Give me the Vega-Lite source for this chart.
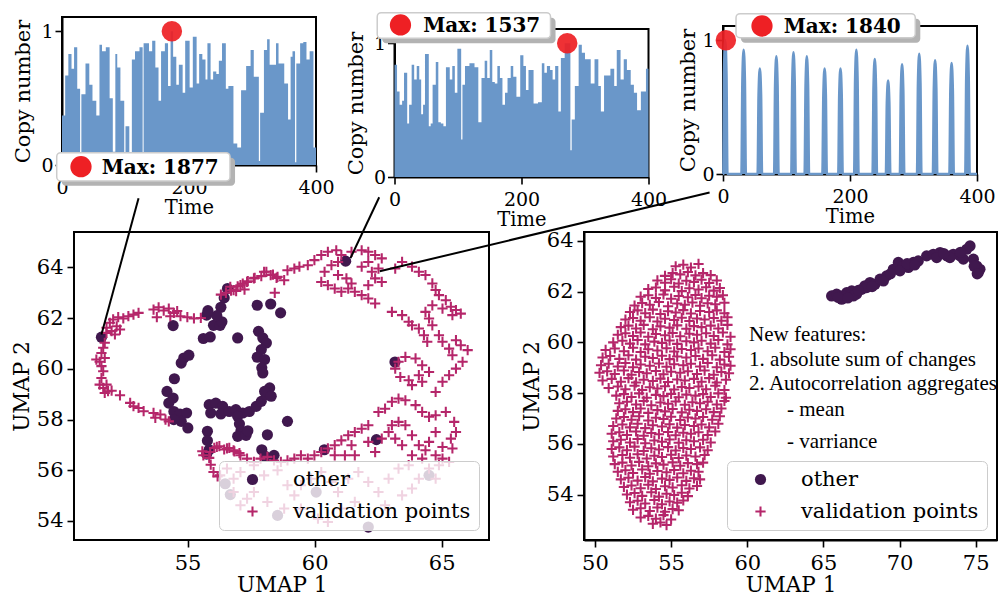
{
"$schema": "https://vega.github.io/schema/vega-lite/v6.json",
"background": "white",
"padding": {"left": 11, "top": 10, "right": 0, "bottom": 0},
"config": {
  "font": "DejaVu Serif",
  "view": {"stroke": "black", "strokeWidth": 2},
  "axis": {"domainColor": "black", "domainWidth": 2, "tickColor": "black", "tickWidth": 1.6, "labelColor": "black", "titleColor": "black", "titleFontWeight": "normal", "grid": false, "labelFont": "DejaVu Serif", "titleFont": "DejaVu Serif", "labelFlush": false, "labelOverlap": false},
  "legend": {"labelFont": "DejaVu Serif", "labelFontSize": 21, "labelColor": "black", "labelLimit": 400, "fillColor": "rgba(255,255,255,0.8)", "strokeColor": "#cccccc", "cornerRadius": 5, "padding": 8, "symbolOffset": 15, "labelOffset": 30, "rowPadding": 10, "symbolSize": 100, "zindex": 1}
},
"datasets": {
  "ts1": [{"t":0,"v":0.37},{"t":5,"v":0.67},{"t":10,"v":0.83},{"t":15,"v":0.72},{"t":19,"v":0.88},{"t":24,"v":0.57},{"t":28.5,"v":0.04},{"t":30.5,"v":0.53},{"t":37,"v":0.76},{"t":43,"v":0.6},{"t":48,"v":0.48},{"t":54,"v":0.37},{"t":59,"v":0.9},{"t":63,"v":0.85},{"t":69,"v":0.88},{"t":75,"v":0.5},{"t":80,"v":0.1},{"t":84,"v":0.83},{"t":87,"v":0.73},{"t":92,"v":0.48},{"t":98,"v":0.03},{"t":100,"v":0.29},{"t":106,"v":0.03},{"t":110,"v":0.79},{"t":115,"v":0.85},{"t":122,"v":0.88},{"t":127,"v":0.05},{"t":128.5,"v":0.91},{"t":137,"v":0.85},{"t":142,"v":0.93},{"t":147,"v":0.73},{"t":152,"v":0.48},{"t":156,"v":0.85},{"t":162,"v":0.91},{"t":167,"v":0.59},{"t":171,"v":1.0},{"t":175,"v":0.81},{"t":180,"v":0.6},{"t":184,"v":0.75},{"t":190,"v":0.54},{"t":194,"v":0.93},{"t":201,"v":0.58},{"t":206,"v":0.96},{"t":212,"v":0.61},{"t":216,"v":0.83},{"t":221,"v":0.79},{"t":226,"v":0.64},{"t":229,"v":0.91},{"t":234,"v":0.64},{"t":238,"v":0.7},{"t":243,"v":0.68},{"t":247,"v":0.78},{"t":252,"v":0.91},{"t":258,"v":0.57},{"t":262,"v":0.59},{"t":270,"v":0.16},{"t":276,"v":0.13},{"t":282,"v":0.56},{"t":290,"v":0.74},{"t":297,"v":0.86},{"t":302,"v":0.66},{"t":310,"v":0.03},{"t":312,"v":0.39},{"t":318,"v":0.86},{"t":323,"v":0.94},{"t":327,"v":0.75},{"t":333,"v":0.75},{"t":337,"v":0.91},{"t":341,"v":0.76},{"t":345,"v":0.76},{"t":350,"v":0.61},{"t":356,"v":0.34},{"t":360,"v":0.81},{"t":363,"v":0.85},{"t":367,"v":0.02},{"t":369,"v":0.76},{"t":375,"v":0.91},{"t":380,"v":0.92},{"t":385,"v":0.79},{"t":390,"v":0.85},{"t":396,"v":0.13},{"t":400,"v":0.13}],
  "ts2": [{"t":0,"v":0.84},{"t":4,"v":0.64},{"t":8,"v":0.54},{"t":12,"v":0.57},{"t":15,"v":0.78},{"t":20,"v":0.4},{"t":23,"v":0.54},{"t":27,"v":0.84},{"t":31,"v":0.73},{"t":35,"v":0.83},{"t":39,"v":0.73},{"t":42,"v":0.47},{"t":45,"v":0.54},{"t":48,"v":0.92},{"t":54,"v":0.38},{"t":57,"v":0.4},{"t":60,"v":0.69},{"t":65,"v":0.86},{"t":69,"v":0.41},{"t":73,"v":0.4},{"t":77,"v":0.38},{"t":81,"v":0.82},{"t":87,"v":0.73},{"t":91,"v":0.83},{"t":95,"v":0.63},{"t":99,"v":0.96},{"t":105,"v":0.28},{"t":107,"v":0.69},{"t":111,"v":0.83},{"t":118,"v":0.85},{"t":126,"v":0.82},{"t":132,"v":0.41},{"t":137,"v":0.74},{"t":142,"v":0.87},{"t":146,"v":0.74},{"t":150,"v":0.95},{"t":154,"v":0.71},{"t":158,"v":0.7},{"t":162,"v":0.83},{"t":166,"v":0.74},{"t":170,"v":0.54},{"t":174,"v":0.63},{"t":178,"v":0.74},{"t":183,"v":0.83},{"t":187,"v":0.75},{"t":192,"v":0.6},{"t":198,"v":0.91},{"t":203,"v":0.83},{"t":207,"v":0.65},{"t":211,"v":0.8},{"t":219,"v":0.55},{"t":226,"v":0.56},{"t":232,"v":0.85},{"t":236,"v":0.78},{"t":240,"v":0.83},{"t":245,"v":0.8},{"t":249,"v":0.73},{"t":253,"v":0.83},{"t":258,"v":0.49},{"t":262,"v":0.89},{"t":268,"v":1.0},{"t":277,"v":0.2},{"t":279,"v":0.43},{"t":284,"v":0.68},{"t":290,"v":0.99},{"t":295,"v":0.93},{"t":300,"v":0.88},{"t":309,"v":0.7},{"t":315,"v":0.88},{"t":321,"v":0.68},{"t":325,"v":0.49},{"t":330,"v":0.76},{"t":340,"v":0.81},{"t":346,"v":0.68},{"t":350,"v":0.95},{"t":356,"v":0.73},{"t":361,"v":0.88},{"t":366,"v":0.8},{"t":372,"v":0.69},{"t":377,"v":0.63},{"t":382,"v":0.5},{"t":388,"v":0.64},{"t":396,"v":0.81},{"t":400,"v":0.81}],
  "ts3": [{"t":0,"v":0},{"t":0.5,"v":0},{"t":1.5,"v":0.75},{"t":3.5,"v":1.0},{"t":5.5,"v":0.75},{"t":7,"v":0},{"t":29,"v":0},{"t":30.5,"v":0.7},{"t":32.5,"v":0.93},{"t":34.5,"v":0.7},{"t":36,"v":0},{"t":54.5,"v":0},{"t":56,"v":0.59},{"t":58,"v":0.79},{"t":60,"v":0.59},{"t":61.5,"v":0},{"t":80.5,"v":0},{"t":82,"v":0.66},{"t":84,"v":0.88},{"t":86,"v":0.66},{"t":87.5,"v":0},{"t":107.5,"v":0},{"t":109,"v":0.68},{"t":111,"v":0.91},{"t":113,"v":0.68},{"t":114.5,"v":0},{"t":128.5,"v":0},{"t":130,"v":0.66},{"t":132,"v":0.88},{"t":134,"v":0.66},{"t":135.5,"v":0},{"t":156.5,"v":0},{"t":158,"v":0.59},{"t":160,"v":0.79},{"t":162,"v":0.59},{"t":163.5,"v":0},{"t":181.5,"v":0},{"t":183,"v":0.59},{"t":185,"v":0.79},{"t":187,"v":0.59},{"t":188.5,"v":0},{"t":206.5,"v":0},{"t":208,"v":0.7},{"t":210,"v":0.93},{"t":212,"v":0.7},{"t":213.5,"v":0},{"t":235.5,"v":0},{"t":237,"v":0.65},{"t":239,"v":0.86},{"t":241,"v":0.65},{"t":242.5,"v":0},{"t":256.5,"v":0},{"t":258,"v":0.53},{"t":260,"v":0.7},{"t":262,"v":0.53},{"t":263.5,"v":0},{"t":278.5,"v":0},{"t":280,"v":0.62},{"t":282,"v":0.82},{"t":284,"v":0.62},{"t":285.5,"v":0},{"t":305.5,"v":0},{"t":307,"v":0.68},{"t":309,"v":0.9},{"t":311,"v":0.68},{"t":312.5,"v":0},{"t":330.5,"v":0},{"t":332,"v":0.64},{"t":334,"v":0.85},{"t":336,"v":0.64},{"t":337.5,"v":0},{"t":356.5,"v":0},{"t":358,"v":0.62},{"t":360,"v":0.83},{"t":362,"v":0.62},{"t":363.5,"v":0},{"t":381.5,"v":0},{"t":383,"v":0.72},{"t":385,"v":0.96},{"t":387,"v":0.72},{"t":388.5,"v":0},{"t":400,"v":0}],
  "bl": [
{"x":51.61,"y":61.25,"g":"o"},{"x":54.43,"y":61.71,"g":"o"},{"x":55.75,"y":62.12,"g":"o"},{"x":56.02,"y":61.72,"g":"o"},{"x":56.28,"y":61.72,"g":"o"},{"x":55.62,"y":61.2,"g":"o"},{"x":55.89,"y":61.26,"g":"o"},{"x":56.35,"y":61.86,"g":"o"},{"x":56.57,"y":63.17,"g":"o"},{"x":56.44,"y":62.8,"g":"o"},{"x":56.31,"y":62.43,"g":"o"},{"x":56.15,"y":62.1,"g":"o"},{"x":55.8,"y":62.3,"g":"o"},{"x":56.97,"y":61.22,"g":"o"},{"x":57.74,"y":62.51,"g":"o"},{"x":58.27,"y":62.56,"g":"o"},{"x":58.66,"y":62.21,"g":"o"},{"x":57.79,"y":61.48,"g":"o"},{"x":57.96,"y":61.22,"g":"o"},{"x":58.1,"y":61.02,"g":"o"},{"x":57.9,"y":60.76,"g":"o"},{"x":57.74,"y":60.46,"g":"o"},{"x":58.03,"y":60.37,"g":"o"},{"x":57.92,"y":60.04,"g":"o"},{"x":57.96,"y":59.84,"g":"o"},{"x":54.85,"y":60.43,"g":"o"},{"x":55.05,"y":60.54,"g":"o"},{"x":54.75,"y":60.23,"g":"o"},{"x":54.48,"y":59.61,"g":"o"},{"x":54.19,"y":59.11,"g":"o"},{"x":54.43,"y":58.85,"g":"o"},{"x":54.26,"y":58.65,"g":"o"},{"x":54.46,"y":58.32,"g":"o"},{"x":54.7,"y":58.22,"g":"o"},{"x":54.96,"y":58.26,"g":"o"},{"x":54.75,"y":57.93,"g":"o"},{"x":55.01,"y":57.67,"g":"o"},{"x":54.46,"y":58.0,"g":"o"},{"x":55.85,"y":58.59,"g":"o"},{"x":56.11,"y":58.65,"g":"o"},{"x":56.38,"y":58.52,"g":"o"},{"x":55.91,"y":58.26,"g":"o"},{"x":56.31,"y":58.22,"g":"o"},{"x":56.64,"y":58.32,"g":"o"},{"x":56.9,"y":58.39,"g":"o"},{"x":57.17,"y":58.26,"g":"o"},{"x":57.43,"y":58.32,"g":"o"},{"x":57.7,"y":58.52,"g":"o"},{"x":57.9,"y":58.72,"g":"o"},{"x":58.1,"y":58.98,"g":"o"},{"x":58.23,"y":59.25,"g":"o"},{"x":58.03,"y":59.11,"g":"o"},{"x":58.29,"y":58.92,"g":"o"},{"x":56.97,"y":58.13,"g":"o"},{"x":57.04,"y":57.83,"g":"o"},{"x":57.1,"y":57.56,"g":"o"},{"x":56.97,"y":57.34,"g":"o"},{"x":57.3,"y":57.38,"g":"o"},{"x":57.37,"y":57.56,"g":"o"},{"x":55.78,"y":57.54,"g":"o"},{"x":55.78,"y":57.17,"g":"o"},{"x":55.85,"y":56.81,"g":"o"},{"x":55.75,"y":56.64,"g":"o"},{"x":58.14,"y":57.4,"g":"o"},{"x":57.92,"y":56.81,"g":"o"},{"x":58.06,"y":56.55,"g":"o"},{"x":58.4,"y":56.59,"g":"o"},{"x":61.22,"y":64.25,"g":"o"},{"x":63.16,"y":60.27,"g":"o"},{"x":58.93,"y":57.93,"g":"o"},{"x":62.43,"y":57.21,"g":"o"},{"x":60.38,"y":56.81,"g":"o"},{"x":56.48,"y":55.47,"g":"o"},{"x":56.68,"y":55.04,"g":"o"},{"x":58.54,"y":54.22,"g":"o"},{"x":60.06,"y":55.14,"g":"o"},{"x":62.11,"y":53.76,"g":"o"},{"x":64.5,"y":55.8,"g":"o"},
{"x":51.81,"y":61.62,"g":"v"},{"x":51.94,"y":61.82,"g":"v"},{"x":52.07,"y":61.95,"g":"v"},{"x":52.27,"y":62.04,"g":"v"},{"x":52.47,"y":61.99,"g":"v"},{"x":52.21,"y":61.68,"g":"v"},{"x":52.01,"y":61.49,"g":"v"},{"x":52.34,"y":61.55,"g":"v"},{"x":51.81,"y":61.42,"g":"v"},{"x":52.14,"y":61.36,"g":"v"},{"x":52.67,"y":62.08,"g":"v"},{"x":52.87,"y":62.14,"g":"v"},{"x":53.07,"y":62.21,"g":"v"},{"x":53.66,"y":62.34,"g":"v"},{"x":53.86,"y":62.43,"g":"v"},{"x":54.06,"y":62.3,"g":"v"},{"x":54.26,"y":62.38,"g":"v"},{"x":54.46,"y":62.21,"g":"v"},{"x":54.59,"y":62.28,"g":"v"},{"x":54.72,"y":62.08,"g":"v"},{"x":54.99,"y":62.04,"g":"v"},{"x":55.25,"y":61.99,"g":"v"},{"x":55.52,"y":62.01,"g":"v"},{"x":54.32,"y":62.08,"g":"v"},{"x":53.79,"y":62.04,"g":"v"},
{"x":51.74,"y":61.03,"g":"v"},{"x":51.68,"y":60.83,"g":"v"},{"x":51.61,"y":60.63,"g":"v"},{"x":51.41,"y":60.37,"g":"v"},{"x":51.54,"y":60.28,"g":"v"},{"x":51.74,"y":60.43,"g":"v"},{"x":51.61,"y":60.11,"g":"v"},{"x":51.68,"y":59.91,"g":"v"},{"x":51.61,"y":59.64,"g":"v"},{"x":51.54,"y":59.38,"g":"v"},{"x":51.68,"y":59.25,"g":"v"},{"x":51.81,"y":59.38,"g":"v"},{"x":51.87,"y":59.12,"g":"v"},{"x":51.74,"y":59.05,"g":"v"},{"x":52.01,"y":59.14,"g":"v"},
{"x":52.34,"y":58.96,"g":"v"},{"x":52.74,"y":58.66,"g":"v"},{"x":52.87,"y":58.53,"g":"v"},{"x":53.07,"y":58.46,"g":"v"},{"x":53.27,"y":58.33,"g":"v"},{"x":53.66,"y":58.26,"g":"v"},{"x":53.93,"y":58.2,"g":"v"},{"x":53.73,"y":58.07,"g":"v"},{"x":54.13,"y":58.0,"g":"v"},{"x":54.26,"y":57.93,"g":"v"},
{"x":56.31,"y":62.93,"g":"v"},{"x":56.51,"y":63.0,"g":"v"},{"x":56.71,"y":63.09,"g":"v"},{"x":56.97,"y":63.26,"g":"v"},{"x":57.17,"y":63.36,"g":"v"},{"x":57.37,"y":63.46,"g":"v"},{"x":57.64,"y":63.59,"g":"v"},{"x":57.9,"y":63.66,"g":"v"},{"x":58.1,"y":63.83,"g":"v"},{"x":58.36,"y":63.72,"g":"v"},{"x":58.5,"y":63.59,"g":"v"},{"x":58.43,"y":63.0,"g":"v"},{"x":56.91,"y":63.07,"g":"v"},{"x":57.24,"y":63.13,"g":"v"},
{"x":55.58,"y":56.75,"g":"v"},{"x":55.85,"y":56.49,"g":"v"},{"x":56.05,"y":56.88,"g":"v"},{"x":56.25,"y":56.95,"g":"v"},{"x":56.44,"y":56.82,"g":"v"},{"x":56.64,"y":56.88,"g":"v"},{"x":56.84,"y":56.75,"g":"v"},{"x":57.04,"y":56.68,"g":"v"},{"x":55.91,"y":56.22,"g":"v"},{"x":56.18,"y":55.76,"g":"v"},
{"x":56.68,"y":63.24,"g":"v"},{"x":56.81,"y":63.11,"g":"v"},{"x":57.08,"y":63.3,"g":"v"},{"x":57.34,"y":63.43,"g":"v"},{"x":57.61,"y":63.57,"g":"v"},{"x":58.01,"y":63.83,"g":"v"},{"x":58.27,"y":63.7,"g":"v"},{"x":58.54,"y":63.63,"g":"v"},{"x":58.8,"y":63.5,"g":"v"},{"x":58.93,"y":63.89,"g":"v"},{"x":59.2,"y":63.96,"g":"v"},{"x":59.4,"y":64.03,"g":"v"},{"x":59.73,"y":64.09,"g":"v"},{"x":59.99,"y":64.29,"g":"v"},{"x":60.26,"y":64.49,"g":"v"},{"x":60.52,"y":64.62,"g":"v"},{"x":60.85,"y":64.68,"g":"v"},{"x":61.05,"y":64.49,"g":"v"},{"x":61.45,"y":64.62,"g":"v"},{"x":61.85,"y":64.68,"g":"v"},{"x":62.11,"y":64.62,"g":"v"},{"x":62.38,"y":64.49,"g":"v"},{"x":62.64,"y":64.36,"g":"v"},{"x":62.11,"y":64.22,"g":"v"},{"x":61.85,"y":64.03,"g":"v"},{"x":62.25,"y":63.83,"g":"v"},{"x":62.51,"y":63.96,"g":"v"},{"x":60.92,"y":64.22,"g":"v"},{"x":60.66,"y":64.09,"g":"v"},{"x":60.39,"y":63.83,"g":"v"},{"x":60.26,"y":63.43,"g":"v"},{"x":60.52,"y":63.3,"g":"v"},{"x":60.79,"y":63.17,"g":"v"},{"x":61.05,"y":63.04,"g":"v"},{"x":61.32,"y":63.17,"g":"v"},{"x":61.45,"y":63.37,"g":"v"},{"x":61.25,"y":63.57,"g":"v"},{"x":60.92,"y":63.7,"g":"v"},{"x":61.58,"y":63.04,"g":"v"},{"x":61.85,"y":62.91,"g":"v"},{"x":62.11,"y":62.78,"g":"v"},{"x":62.38,"y":62.58,"g":"v"},{"x":62.11,"y":63.3,"g":"v"},{"x":62.38,"y":63.57,"g":"v"},{"x":62.64,"y":63.43,"g":"v"},{"x":63.17,"y":63.96,"g":"v"},
{"x":63.44,"y":64.22,"g":"v"},{"x":63.83,"y":64.03,"g":"v"},{"x":64.1,"y":63.83,"g":"v"},{"x":64.36,"y":63.7,"g":"v"},{"x":64.63,"y":63.37,"g":"v"},{"x":64.76,"y":63.11,"g":"v"},{"x":64.89,"y":62.91,"g":"v"},{"x":65.16,"y":62.71,"g":"v"},{"x":65.36,"y":62.45,"g":"v"},{"x":65.56,"y":62.32,"g":"v"},{"x":65.75,"y":62.18,"g":"v"},{"x":65.42,"y":62.12,"g":"v"},{"x":65.03,"y":62.38,"g":"v"},{"x":64.63,"y":62.51,"g":"v"},{"x":64.36,"y":62.25,"g":"v"},{"x":64.5,"y":61.99,"g":"v"},{"x":64.63,"y":61.72,"g":"v"},{"x":64.89,"y":61.33,"g":"v"},{"x":65.03,"y":61.07,"g":"v"},{"x":65.29,"y":60.8,"g":"v"},{"x":65.42,"y":60.54,"g":"v"},{"x":65.56,"y":61.13,"g":"v"},{"x":65.75,"y":60.93,"g":"v"},{"x":66.02,"y":60.74,"g":"v"},{"x":65.82,"y":60.28,"g":"v"},{"x":65.56,"y":60.01,"g":"v"},{"x":65.29,"y":59.75,"g":"v"},{"x":65.03,"y":59.49,"g":"v"},{"x":64.76,"y":59.09,"g":"v"},
{"x":63.04,"y":62.25,"g":"v"},{"x":63.44,"y":62.12,"g":"v"},{"x":63.7,"y":61.86,"g":"v"},{"x":64.1,"y":61.59,"g":"v"},{"x":64.3,"y":61.33,"g":"v"},{"x":64.43,"y":61.07,"g":"v"},{"x":63.83,"y":61.72,"g":"v"},{"x":63.3,"y":60.28,"g":"v"},{"x":63.57,"y":60.47,"g":"v"},{"x":63.97,"y":60.41,"g":"v"},{"x":64.23,"y":60.14,"g":"v"},{"x":64.5,"y":59.88,"g":"v"},{"x":64.1,"y":59.75,"g":"v"},{"x":63.7,"y":59.55,"g":"v"},{"x":63.37,"y":59.68,"g":"v"},{"x":63.17,"y":60.01,"g":"v"},{"x":63.83,"y":59.36,"g":"v"},{"x":64.23,"y":59.49,"g":"v"},
{"x":62.51,"y":58.3,"g":"v"},{"x":62.77,"y":58.43,"g":"v"},{"x":63.04,"y":58.7,"g":"v"},{"x":63.3,"y":58.83,"g":"v"},{"x":63.57,"y":58.76,"g":"v"},{"x":63.97,"y":58.57,"g":"v"},{"x":64.23,"y":58.3,"g":"v"},{"x":64.5,"y":58.11,"g":"v"},{"x":64.76,"y":58.17,"g":"v"},{"x":65.16,"y":58.3,"g":"v"},{"x":65.49,"y":57.91,"g":"v"},{"x":65.36,"y":57.25,"g":"v"},{"x":65.56,"y":57.51,"g":"v"},{"x":64.76,"y":57.51,"g":"v"},{"x":64.5,"y":57.12,"g":"v"},{"x":64.36,"y":56.79,"g":"v"},{"x":64.1,"y":56.99,"g":"v"},{"x":63.83,"y":57.38,"g":"v"},{"x":63.57,"y":57.78,"g":"v"},{"x":63.3,"y":57.91,"g":"v"},{"x":63.04,"y":57.78,"g":"v"},{"x":62.91,"y":57.51,"g":"v"},{"x":63.17,"y":57.25,"g":"v"},{"x":63.44,"y":56.99,"g":"v"},{"x":63.83,"y":56.59,"g":"v"},{"x":64.23,"y":56.46,"g":"v"},{"x":64.76,"y":56.59,"g":"v"},{"x":65.03,"y":56.92,"g":"v"},{"x":65.42,"y":56.86,"g":"v"},{"x":65.03,"y":56.46,"g":"v"},
{"x":62.11,"y":57.78,"g":"v"},{"x":61.85,"y":57.64,"g":"v"},{"x":61.58,"y":57.51,"g":"v"},{"x":61.32,"y":57.38,"g":"v"},{"x":61.05,"y":57.18,"g":"v"},{"x":60.79,"y":56.99,"g":"v"},{"x":60.52,"y":56.86,"g":"v"},{"x":60.26,"y":56.72,"g":"v"},{"x":59.99,"y":56.59,"g":"v"},{"x":59.73,"y":56.46,"g":"v"},{"x":59.46,"y":56.59,"g":"v"},{"x":59.2,"y":56.46,"g":"v"},{"x":58.93,"y":56.39,"g":"v"},{"x":58.67,"y":56.33,"g":"v"},{"x":61.45,"y":56.99,"g":"v"},{"x":61.19,"y":56.59,"g":"v"},{"x":60.79,"y":56.59,"g":"v"},{"x":61.58,"y":56.59,"g":"v"},{"x":62.11,"y":57.12,"g":"v"},{"x":62.64,"y":57.25,"g":"v"},{"x":62.38,"y":56.72,"g":"v"},
{"x":55.62,"y":56.59,"g":"v"},{"x":55.89,"y":56.72,"g":"v"},{"x":56.15,"y":56.92,"g":"v"},{"x":56.55,"y":56.86,"g":"v"},{"x":56.81,"y":56.79,"g":"v"},{"x":57.08,"y":56.59,"g":"v"},{"x":57.34,"y":56.46,"g":"v"},{"x":57.61,"y":56.33,"g":"v"},{"x":57.87,"y":56.46,"g":"v"},{"x":58.14,"y":56.53,"g":"v"},{"x":58.4,"y":56.39,"g":"v"},{"x":56.02,"y":55.93,"g":"v"},{"x":56.28,"y":55.8,"g":"v"},
{"x":56.55,"y":56.07,"g":"v"},{"x":56.81,"y":55.67,"g":"v"},{"x":57.08,"y":55.93,"g":"v"},{"x":57.61,"y":56.2,"g":"v"},{"x":58.01,"y":55.8,"g":"v"},{"x":58.54,"y":56.0,"g":"v"},{"x":58.93,"y":55.41,"g":"v"},{"x":59.2,"y":55.01,"g":"v"},{"x":59.46,"y":55.41,"g":"v"},{"x":59.86,"y":55.67,"g":"v"},{"x":60.26,"y":55.93,"g":"v"},{"x":60.66,"y":55.54,"g":"v"},{"x":60.92,"y":55.14,"g":"v"},{"x":61.32,"y":55.67,"g":"v"},{"x":61.72,"y":55.93,"g":"v"},{"x":62.11,"y":55.54,"g":"v"},{"x":62.51,"y":55.14,"g":"v"},{"x":62.91,"y":55.67,"g":"v"},{"x":63.3,"y":56.07,"g":"v"},{"x":63.7,"y":56.2,"g":"v"},{"x":64.1,"y":55.67,"g":"v"},{"x":64.5,"y":56.07,"g":"v"},{"x":64.89,"y":56.2,"g":"v"},{"x":65.29,"y":56.33,"g":"v"},{"x":57.34,"y":54.88,"g":"v"},{"x":57.61,"y":55.14,"g":"v"},{"x":58.14,"y":54.75,"g":"v"},{"x":58.8,"y":54.49,"g":"v"},{"x":59.46,"y":54.49,"g":"v"},{"x":60.13,"y":54.09,"g":"v"},{"x":60.52,"y":53.96,"g":"v"},{"x":61.05,"y":54.49,"g":"v"},{"x":61.58,"y":54.75,"g":"v"},{"x":62.77,"y":54.62,"g":"v"},{"x":63.44,"y":55.01,"g":"v"},{"x":63.83,"y":55.28,"g":"v"},{"x":64.76,"y":55.67,"g":"v"},{"x":56.81,"y":55.14,"g":"v"},{"x":57.08,"y":54.62,"g":"v"}
  ],
  "br": [
{"x":65.54,"y":61.83,"g":"o"},{"x":65.87,"y":61.9,"g":"o"},{"x":66.2,"y":61.7,"g":"o"},{"x":66.53,"y":61.96,"g":"o"},{"x":66.86,"y":62.03,"g":"o"},{"x":67.18,"y":61.9,"g":"o"},{"x":67.51,"y":62.09,"g":"o"},{"x":67.73,"y":62.23,"g":"o"},{"x":68.06,"y":62.36,"g":"o"},{"x":68.39,"y":62.29,"g":"o"},{"x":68.72,"y":62.49,"g":"o"},{"x":69.15,"y":62.62,"g":"o"},{"x":69.59,"y":62.88,"g":"o"},{"x":69.92,"y":63.15,"g":"o"},{"x":70.25,"y":63.01,"g":"o"},{"x":70.58,"y":62.95,"g":"o"},{"x":70.91,"y":63.15,"g":"o"},{"x":71.23,"y":63.21,"g":"o"},{"x":71.78,"y":63.41,"g":"o"},{"x":72.22,"y":63.47,"g":"o"},{"x":72.66,"y":63.54,"g":"o"},{"x":73.1,"y":63.41,"g":"o"},{"x":73.53,"y":63.47,"g":"o"},{"x":73.97,"y":63.41,"g":"o"},{"x":74.41,"y":63.67,"g":"o"},{"x":74.63,"y":63.8,"g":"o"},{"x":74.85,"y":63.28,"g":"o"},{"x":75.07,"y":63.01,"g":"o"},{"x":75.28,"y":62.88,"g":"o"},{"x":75.17,"y":62.75,"g":"o"},{"x":74.19,"y":63.28,"g":"o"},{"x":73.31,"y":63.34,"g":"o"},{"x":72.44,"y":63.34,"g":"o"},{"x":70.03,"y":62.82,"g":"o"},{"x":68.94,"y":62.42,"g":"o"},{"x":67.84,"y":62.16,"g":"o"},{"x":66.97,"y":61.83,"g":"o"},{"x":66.31,"y":61.83,"g":"o"},{"x":65.98,"y":61.77,"g":"o"},{"x":66.6,"y":61.75,"g":"o"},{"x":67.3,"y":62.05,"g":"o"},{"x":68.2,"y":62.2,"g":"o"},{"x":69.4,"y":62.7,"g":"o"},{"x":70.5,"y":63.1,"g":"o"},{"x":71.0,"y":63.05,"g":"o"},{"x":72.9,"y":63.5,"g":"o"},{"x":74.0,"y":63.55,"g":"o"},{"x":74.9,"y":63.0,"g":"o"},{"x":75.1,"y":62.7,"g":"o"},
{"x":55.3,"y":63.0,"g":"v"},{"x":55.8,"y":63.06,"g":"v"},{"x":56.3,"y":62.95,"g":"v"},{"x":56.8,"y":63.09,"g":"v"},
{"x":54.6,"y":62.62,"g":"v"},{"x":55.1,"y":62.73,"g":"v"},{"x":55.6,"y":62.68,"g":"v"},{"x":56.1,"y":62.77,"g":"v"},{"x":56.6,"y":62.64,"g":"v"},{"x":57.1,"y":62.73,"g":"v"},{"x":57.6,"y":62.65,"g":"v"},
{"x":54.1,"y":62.44,"g":"v"},{"x":54.6,"y":62.35,"g":"v"},{"x":55.0,"y":62.49,"g":"v"},{"x":55.5,"y":62.32,"g":"v"},{"x":56.0,"y":62.43,"g":"v"},{"x":56.5,"y":62.38,"g":"v"},{"x":57.0,"y":62.47,"g":"v"},{"x":57.5,"y":62.34,"g":"v"},{"x":58.0,"y":62.44,"g":"v"},
{"x":53.5,"y":62.1,"g":"v"},{"x":54.0,"y":62.16,"g":"v"},{"x":54.6,"y":62.05,"g":"v"},{"x":55.2,"y":62.19,"g":"v"},{"x":55.7,"y":62.02,"g":"v"},{"x":56.2,"y":62.13,"g":"v"},{"x":56.8,"y":62.08,"g":"v"},{"x":57.3,"y":62.17,"g":"v"},{"x":57.8,"y":62.04,"g":"v"},{"x":58.2,"y":62.14,"g":"v"},
{"x":53.0,"y":61.8,"g":"v"},{"x":53.5,"y":61.86,"g":"v"},{"x":54.0,"y":61.75,"g":"v"},{"x":54.5,"y":61.89,"g":"v"},{"x":55.0,"y":61.72,"g":"v"},{"x":55.5,"y":61.83,"g":"v"},{"x":56.1,"y":61.78,"g":"v"},{"x":56.6,"y":61.87,"g":"v"},{"x":57.0,"y":61.74,"g":"v"},{"x":57.5,"y":61.84,"g":"v"},{"x":58.0,"y":61.8,"g":"v"},{"x":58.4,"y":61.86,"g":"v"},
{"x":52.6,"y":61.45,"g":"v"},{"x":53.1,"y":61.55,"g":"v"},{"x":53.6,"y":61.48,"g":"v"},{"x":54.2,"y":61.59,"g":"v"},{"x":54.8,"y":61.42,"g":"v"},{"x":55.4,"y":61.53,"g":"v"},{"x":55.9,"y":61.48,"g":"v"},{"x":56.4,"y":61.57,"g":"v"},{"x":56.9,"y":61.44,"g":"v"},{"x":57.4,"y":61.54,"g":"v"},{"x":57.9,"y":61.5,"g":"v"},{"x":58.5,"y":61.56,"g":"v"},
{"x":52.3,"y":61.2,"g":"v"},{"x":52.8,"y":61.26,"g":"v"},{"x":53.3,"y":61.15,"g":"v"},{"x":53.8,"y":61.29,"g":"v"},{"x":54.3,"y":61.12,"g":"v"},{"x":54.8,"y":61.23,"g":"v"},{"x":55.3,"y":61.18,"g":"v"},{"x":55.8,"y":61.27,"g":"v"},{"x":56.3,"y":61.14,"g":"v"},{"x":56.9,"y":61.24,"g":"v"},{"x":57.5,"y":61.2,"g":"v"},{"x":58.0,"y":61.26,"g":"v"},{"x":58.5,"y":61.15,"g":"v"},
{"x":52.0,"y":60.9,"g":"v"},{"x":52.5,"y":60.96,"g":"v"},{"x":53.0,"y":60.85,"g":"v"},{"x":53.6,"y":60.99,"g":"v"},{"x":54.1,"y":60.82,"g":"v"},{"x":54.6,"y":60.93,"g":"v"},{"x":55.2,"y":60.88,"g":"v"},{"x":55.7,"y":60.97,"g":"v"},{"x":56.2,"y":60.84,"g":"v"},{"x":56.7,"y":60.94,"g":"v"},{"x":57.2,"y":60.9,"g":"v"},{"x":57.8,"y":60.96,"g":"v"},{"x":58.3,"y":60.85,"g":"v"},{"x":58.7,"y":60.99,"g":"v"},
{"x":51.7,"y":60.6,"g":"v"},{"x":52.2,"y":60.66,"g":"v"},{"x":52.7,"y":60.55,"g":"v"},{"x":53.2,"y":60.69,"g":"v"},{"x":53.8,"y":60.52,"g":"v"},{"x":54.3,"y":60.63,"g":"v"},{"x":54.9,"y":60.58,"g":"v"},{"x":55.4,"y":60.67,"g":"v"},{"x":56.0,"y":60.54,"g":"v"},{"x":56.5,"y":60.64,"g":"v"},{"x":57.0,"y":60.6,"g":"v"},{"x":57.6,"y":60.66,"g":"v"},{"x":58.1,"y":60.55,"g":"v"},{"x":58.7,"y":60.69,"g":"v"},
{"x":51.5,"y":60.3,"g":"v"},{"x":52.0,"y":60.36,"g":"v"},{"x":52.5,"y":60.25,"g":"v"},{"x":53.0,"y":60.39,"g":"v"},{"x":53.5,"y":60.22,"g":"v"},{"x":54.0,"y":60.33,"g":"v"},{"x":54.6,"y":60.28,"g":"v"},{"x":55.1,"y":60.37,"g":"v"},{"x":55.6,"y":60.24,"g":"v"},{"x":56.2,"y":60.34,"g":"v"},{"x":56.7,"y":60.3,"g":"v"},{"x":57.3,"y":60.36,"g":"v"},{"x":57.8,"y":60.25,"g":"v"},{"x":58.4,"y":60.39,"g":"v"},{"x":58.9,"y":60.22,"g":"v"},
{"x":51.2,"y":60.0,"g":"v"},{"x":51.8,"y":60.06,"g":"v"},{"x":52.3,"y":59.95,"g":"v"},{"x":52.8,"y":60.09,"g":"v"},{"x":53.3,"y":59.92,"g":"v"},{"x":53.9,"y":60.03,"g":"v"},{"x":54.4,"y":59.98,"g":"v"},{"x":54.9,"y":60.07,"g":"v"},{"x":55.4,"y":59.94,"g":"v"},{"x":56.0,"y":60.04,"g":"v"},{"x":56.5,"y":60.0,"g":"v"},{"x":57.0,"y":60.06,"g":"v"},{"x":57.6,"y":59.95,"g":"v"},{"x":58.1,"y":60.09,"g":"v"},{"x":58.7,"y":59.92,"g":"v"},
{"x":50.7,"y":59.7,"g":"v"},{"x":51.3,"y":59.76,"g":"v"},{"x":51.9,"y":59.65,"g":"v"},{"x":52.5,"y":59.79,"g":"v"},{"x":53.0,"y":59.62,"g":"v"},{"x":53.5,"y":59.73,"g":"v"},{"x":54.1,"y":59.68,"g":"v"},{"x":54.7,"y":59.77,"g":"v"},{"x":55.2,"y":59.64,"g":"v"},{"x":55.7,"y":59.74,"g":"v"},{"x":56.3,"y":59.7,"g":"v"},{"x":56.8,"y":59.76,"g":"v"},{"x":57.4,"y":59.65,"g":"v"},{"x":57.9,"y":59.79,"g":"v"},{"x":58.5,"y":59.62,"g":"v"},{"x":58.9,"y":59.73,"g":"v"},
{"x":50.5,"y":59.4,"g":"v"},{"x":51.0,"y":59.46,"g":"v"},{"x":51.6,"y":59.35,"g":"v"},{"x":52.2,"y":59.49,"g":"v"},{"x":52.7,"y":59.32,"g":"v"},{"x":53.3,"y":59.43,"g":"v"},{"x":53.8,"y":59.38,"g":"v"},{"x":54.4,"y":59.47,"g":"v"},{"x":54.9,"y":59.34,"g":"v"},{"x":55.4,"y":59.44,"g":"v"},{"x":56.0,"y":59.4,"g":"v"},{"x":56.6,"y":59.46,"g":"v"},{"x":57.1,"y":59.35,"g":"v"},{"x":57.7,"y":59.49,"g":"v"},{"x":58.2,"y":59.32,"g":"v"},{"x":58.8,"y":59.43,"g":"v"},
{"x":50.4,"y":59.1,"g":"v"},{"x":50.9,"y":59.16,"g":"v"},{"x":51.5,"y":59.05,"g":"v"},{"x":52.0,"y":59.19,"g":"v"},{"x":52.5,"y":59.02,"g":"v"},{"x":53.0,"y":59.13,"g":"v"},{"x":53.6,"y":59.08,"g":"v"},{"x":54.2,"y":59.17,"g":"v"},{"x":54.7,"y":59.04,"g":"v"},{"x":55.2,"y":59.14,"g":"v"},{"x":55.8,"y":59.1,"g":"v"},{"x":56.3,"y":59.16,"g":"v"},{"x":56.9,"y":59.05,"g":"v"},{"x":57.4,"y":59.19,"g":"v"},{"x":58.0,"y":59.02,"g":"v"},{"x":58.5,"y":59.13,"g":"v"},{"x":58.9,"y":59.08,"g":"v"},
{"x":50.3,"y":58.8,"g":"v"},{"x":50.8,"y":58.86,"g":"v"},{"x":51.3,"y":58.75,"g":"v"},{"x":51.9,"y":58.89,"g":"v"},{"x":52.4,"y":58.72,"g":"v"},{"x":52.9,"y":58.83,"g":"v"},{"x":53.4,"y":58.78,"g":"v"},{"x":54.0,"y":58.87,"g":"v"},{"x":54.5,"y":58.74,"g":"v"},{"x":55.0,"y":58.84,"g":"v"},{"x":55.6,"y":58.8,"g":"v"},{"x":56.1,"y":58.86,"g":"v"},{"x":56.7,"y":58.75,"g":"v"},{"x":57.2,"y":58.89,"g":"v"},{"x":57.8,"y":58.72,"g":"v"},{"x":58.3,"y":58.83,"g":"v"},{"x":58.8,"y":58.78,"g":"v"},
{"x":50.5,"y":58.5,"g":"v"},{"x":51.1,"y":58.56,"g":"v"},{"x":51.7,"y":58.45,"g":"v"},{"x":52.2,"y":58.59,"g":"v"},{"x":52.7,"y":58.42,"g":"v"},{"x":53.2,"y":58.53,"g":"v"},{"x":53.8,"y":58.48,"g":"v"},{"x":54.3,"y":58.57,"g":"v"},{"x":54.8,"y":58.44,"g":"v"},{"x":55.4,"y":58.54,"g":"v"},{"x":55.9,"y":58.5,"g":"v"},{"x":56.5,"y":58.56,"g":"v"},{"x":57.0,"y":58.45,"g":"v"},{"x":57.5,"y":58.59,"g":"v"},{"x":58.0,"y":58.42,"g":"v"},{"x":58.6,"y":58.53,"g":"v"},
{"x":50.9,"y":58.2,"g":"v"},{"x":51.5,"y":58.26,"g":"v"},{"x":52.0,"y":58.15,"g":"v"},{"x":52.6,"y":58.29,"g":"v"},{"x":53.1,"y":58.12,"g":"v"},{"x":53.6,"y":58.23,"g":"v"},{"x":54.1,"y":58.18,"g":"v"},{"x":54.6,"y":58.27,"g":"v"},{"x":55.2,"y":58.14,"g":"v"},{"x":55.7,"y":58.24,"g":"v"},{"x":56.2,"y":58.2,"g":"v"},{"x":56.8,"y":58.26,"g":"v"},{"x":57.3,"y":58.15,"g":"v"},{"x":57.9,"y":58.29,"g":"v"},{"x":58.5,"y":58.12,"g":"v"},
{"x":51.4,"y":57.9,"g":"v"},{"x":51.9,"y":57.96,"g":"v"},{"x":52.4,"y":57.85,"g":"v"},{"x":52.9,"y":57.99,"g":"v"},{"x":53.4,"y":57.82,"g":"v"},{"x":54.0,"y":57.93,"g":"v"},{"x":54.5,"y":57.88,"g":"v"},{"x":55.0,"y":57.97,"g":"v"},{"x":55.5,"y":57.84,"g":"v"},{"x":56.0,"y":57.94,"g":"v"},{"x":56.6,"y":57.9,"g":"v"},{"x":57.1,"y":57.96,"g":"v"},{"x":57.6,"y":57.85,"g":"v"},{"x":58.1,"y":57.99,"g":"v"},{"x":58.6,"y":57.82,"g":"v"},
{"x":51.6,"y":57.6,"g":"v"},{"x":52.1,"y":57.66,"g":"v"},{"x":52.7,"y":57.55,"g":"v"},{"x":53.2,"y":57.69,"g":"v"},{"x":53.7,"y":57.52,"g":"v"},{"x":54.3,"y":57.63,"g":"v"},{"x":54.8,"y":57.58,"g":"v"},{"x":55.3,"y":57.67,"g":"v"},{"x":55.9,"y":57.54,"g":"v"},{"x":56.4,"y":57.64,"g":"v"},{"x":56.9,"y":57.6,"g":"v"},{"x":57.4,"y":57.66,"g":"v"},{"x":58.0,"y":57.55,"g":"v"},{"x":58.5,"y":57.69,"g":"v"},
{"x":51.5,"y":57.3,"g":"v"},{"x":52.0,"y":57.36,"g":"v"},{"x":52.5,"y":57.25,"g":"v"},{"x":53.0,"y":57.39,"g":"v"},{"x":53.5,"y":57.22,"g":"v"},{"x":54.1,"y":57.33,"g":"v"},{"x":54.6,"y":57.28,"g":"v"},{"x":55.1,"y":57.37,"g":"v"},{"x":55.7,"y":57.24,"g":"v"},{"x":56.2,"y":57.34,"g":"v"},{"x":56.7,"y":57.3,"g":"v"},{"x":57.3,"y":57.36,"g":"v"},{"x":57.8,"y":57.25,"g":"v"},{"x":58.3,"y":57.39,"g":"v"},
{"x":51.4,"y":57.0,"g":"v"},{"x":51.9,"y":57.06,"g":"v"},{"x":52.4,"y":56.95,"g":"v"},{"x":52.9,"y":57.09,"g":"v"},{"x":53.5,"y":56.92,"g":"v"},{"x":54.0,"y":57.03,"g":"v"},{"x":54.5,"y":56.98,"g":"v"},{"x":55.0,"y":57.07,"g":"v"},{"x":55.6,"y":56.94,"g":"v"},{"x":56.1,"y":57.04,"g":"v"},{"x":56.6,"y":57.0,"g":"v"},{"x":57.1,"y":57.06,"g":"v"},{"x":57.7,"y":56.95,"g":"v"},{"x":58.2,"y":57.09,"g":"v"},
{"x":51.2,"y":56.7,"g":"v"},{"x":51.8,"y":56.76,"g":"v"},{"x":52.3,"y":56.65,"g":"v"},{"x":52.8,"y":56.79,"g":"v"},{"x":53.3,"y":56.62,"g":"v"},{"x":53.8,"y":56.73,"g":"v"},{"x":54.4,"y":56.68,"g":"v"},{"x":54.9,"y":56.77,"g":"v"},{"x":55.4,"y":56.64,"g":"v"},{"x":55.9,"y":56.74,"g":"v"},{"x":56.5,"y":56.7,"g":"v"},{"x":57.0,"y":56.76,"g":"v"},{"x":57.5,"y":56.65,"g":"v"},{"x":58.1,"y":56.79,"g":"v"},
{"x":51.1,"y":56.4,"g":"v"},{"x":51.6,"y":56.46,"g":"v"},{"x":52.1,"y":56.35,"g":"v"},{"x":52.7,"y":56.49,"g":"v"},{"x":53.2,"y":56.32,"g":"v"},{"x":53.7,"y":56.43,"g":"v"},{"x":54.2,"y":56.38,"g":"v"},{"x":54.8,"y":56.47,"g":"v"},{"x":55.3,"y":56.34,"g":"v"},{"x":55.8,"y":56.44,"g":"v"},{"x":56.3,"y":56.4,"g":"v"},{"x":56.8,"y":56.46,"g":"v"},{"x":57.4,"y":56.35,"g":"v"},{"x":57.9,"y":56.49,"g":"v"},
{"x":51.2,"y":56.1,"g":"v"},{"x":51.7,"y":56.16,"g":"v"},{"x":52.3,"y":56.05,"g":"v"},{"x":52.8,"y":56.19,"g":"v"},{"x":53.3,"y":56.02,"g":"v"},{"x":53.9,"y":56.13,"g":"v"},{"x":54.4,"y":56.08,"g":"v"},{"x":54.9,"y":56.17,"g":"v"},{"x":55.5,"y":56.04,"g":"v"},{"x":56.0,"y":56.14,"g":"v"},{"x":56.5,"y":56.1,"g":"v"},{"x":57.1,"y":56.16,"g":"v"},{"x":57.6,"y":56.05,"g":"v"},
{"x":51.1,"y":55.8,"g":"v"},{"x":51.6,"y":55.86,"g":"v"},{"x":52.1,"y":55.75,"g":"v"},{"x":52.6,"y":55.89,"g":"v"},{"x":53.2,"y":55.72,"g":"v"},{"x":53.7,"y":55.83,"g":"v"},{"x":54.2,"y":55.78,"g":"v"},{"x":54.8,"y":55.87,"g":"v"},{"x":55.3,"y":55.74,"g":"v"},{"x":55.8,"y":55.84,"g":"v"},{"x":56.3,"y":55.8,"g":"v"},{"x":56.9,"y":55.86,"g":"v"},{"x":57.4,"y":55.75,"g":"v"},
{"x":51.2,"y":55.5,"g":"v"},{"x":51.8,"y":55.56,"g":"v"},{"x":52.3,"y":55.45,"g":"v"},{"x":52.8,"y":55.59,"g":"v"},{"x":53.4,"y":55.42,"g":"v"},{"x":53.9,"y":55.53,"g":"v"},{"x":54.4,"y":55.48,"g":"v"},{"x":55.0,"y":55.57,"g":"v"},{"x":55.5,"y":55.44,"g":"v"},{"x":56.0,"y":55.54,"g":"v"},{"x":56.6,"y":55.5,"g":"v"},{"x":57.2,"y":55.56,"g":"v"},
{"x":51.3,"y":55.2,"g":"v"},{"x":51.8,"y":55.26,"g":"v"},{"x":52.4,"y":55.15,"g":"v"},{"x":52.9,"y":55.29,"g":"v"},{"x":53.5,"y":55.12,"g":"v"},{"x":54.0,"y":55.23,"g":"v"},{"x":54.5,"y":55.18,"g":"v"},{"x":55.1,"y":55.27,"g":"v"},{"x":55.6,"y":55.14,"g":"v"},{"x":56.1,"y":55.24,"g":"v"},{"x":56.7,"y":55.2,"g":"v"},{"x":57.1,"y":55.26,"g":"v"},
{"x":51.5,"y":54.9,"g":"v"},{"x":52.0,"y":54.96,"g":"v"},{"x":52.5,"y":54.85,"g":"v"},{"x":53.1,"y":54.99,"g":"v"},{"x":53.6,"y":54.82,"g":"v"},{"x":54.1,"y":54.93,"g":"v"},{"x":54.7,"y":54.88,"g":"v"},{"x":55.2,"y":54.97,"g":"v"},{"x":55.8,"y":54.84,"g":"v"},{"x":56.3,"y":54.94,"g":"v"},{"x":56.8,"y":54.9,"g":"v"},
{"x":51.7,"y":54.6,"g":"v"},{"x":52.2,"y":54.66,"g":"v"},{"x":52.8,"y":54.55,"g":"v"},{"x":53.3,"y":54.69,"g":"v"},{"x":53.8,"y":54.52,"g":"v"},{"x":54.4,"y":54.63,"g":"v"},{"x":54.9,"y":54.58,"g":"v"},{"x":55.4,"y":54.67,"g":"v"},{"x":56.0,"y":54.54,"g":"v"},{"x":56.5,"y":54.64,"g":"v"},{"x":56.9,"y":54.6,"g":"v"},
{"x":51.9,"y":54.3,"g":"v"},{"x":52.4,"y":54.36,"g":"v"},{"x":53.0,"y":54.25,"g":"v"},{"x":53.5,"y":54.39,"g":"v"},{"x":54.0,"y":54.22,"g":"v"},{"x":54.6,"y":54.33,"g":"v"},{"x":55.1,"y":54.28,"g":"v"},{"x":55.7,"y":54.37,"g":"v"},{"x":56.2,"y":54.24,"g":"v"},{"x":56.7,"y":54.34,"g":"v"},
{"x":52.1,"y":54.0,"g":"v"},{"x":52.6,"y":54.06,"g":"v"},{"x":53.1,"y":53.95,"g":"v"},{"x":53.7,"y":54.09,"g":"v"},{"x":54.2,"y":53.92,"g":"v"},{"x":54.7,"y":54.03,"g":"v"},{"x":55.2,"y":53.98,"g":"v"},{"x":55.7,"y":54.07,"g":"v"},{"x":56.1,"y":53.94,"g":"v"},
{"x":52.3,"y":53.7,"g":"v"},{"x":52.8,"y":53.76,"g":"v"},{"x":53.3,"y":53.65,"g":"v"},{"x":53.9,"y":53.79,"g":"v"},{"x":54.4,"y":53.62,"g":"v"},{"x":54.9,"y":53.73,"g":"v"},{"x":55.4,"y":53.68,"g":"v"},{"x":55.8,"y":53.77,"g":"v"},
{"x":52.5,"y":53.4,"g":"v"},{"x":53.0,"y":53.46,"g":"v"},{"x":53.6,"y":53.35,"g":"v"},{"x":54.1,"y":53.49,"g":"v"},{"x":54.6,"y":53.32,"g":"v"},{"x":55.1,"y":53.43,"g":"v"},{"x":55.5,"y":53.38,"g":"v"},
{"x":53.0,"y":53.1,"g":"v"},{"x":53.5,"y":53.16,"g":"v"},{"x":54.0,"y":53.05,"g":"v"},{"x":54.5,"y":53.19,"g":"v"},{"x":55.0,"y":53.02,"g":"v"},
{"x":53.8,"y":52.85,"g":"v"},{"x":54.3,"y":52.9,"g":"v"},{"x":54.7,"y":52.8,"g":"v"}
  ]
},
"columns": 1,
"align": "none",
"bounds": "full",
"spacing": -39,
"resolve": {"scale": {"x": "independent", "y": "independent", "color": "independent", "shape": "independent", "size": "independent"}, "legend": {"color": "independent", "shape": "independent"}},
"concat": [
 {
  "columns": 3,
  "align": "none",
  "bounds": "full",
  "spacing": 7.5,
  "concat": [
   {
    "width": 254, "height": 148,
    "layer": [
     {"data": {"name": "ts1"}, "mark": {"type": "area", "interpolate": "step-after", "color": "#6a97c9"},
      "encoding": {
       "x": {"field": "t", "type": "quantitative", "scale": {"domain": [0, 400], "nice": false, "zero": false}, "axis": {"values": [0, 200, 400], "title": "Time", "labelFontSize": 19, "titleFontSize": 19.5, "tickSize": 7, "labelPadding": 6, "titlePadding": 1}},
       "y": {"field": "v", "type": "quantitative", "scale": {"domain": [0, 1.107], "nice": false}, "axis": {"values": [0, 1], "format": "d", "title": "Copy number", "labelFontSize": 19, "titleFontSize": 21, "tickSize": 7, "labelPadding": 2, "titlePadding": 7}}}},
     {"data": {"values": [{}]}, "mark": {"type": "point", "filled": true, "size": 420, "color": "#ee2024", "opacity": 0.92}, "encoding": {"x": {"datum": 173}, "y": {"datum": 1.0}}},
     {"data": {"values": [{}]}, "mark": {"type": "rect", "color": "#b3b3b3", "cornerRadius": 4}, "encoding": {"x": {"datum": -0.4}, "x2": {"datum": 272.5}, "y": {"datum": 0.055}, "y2": {"datum": -0.156}}},
     {"data": {"values": [{}]}, "mark": {"type": "rect", "fill": "white", "stroke": "#cccccc", "strokeWidth": 1.5, "cornerRadius": 4}, "encoding": {"x": {"datum": -8.3}, "x2": {"datum": 264.6}, "y": {"datum": 0.092}, "y2": {"datum": -0.119}}},
     {"data": {"values": [{}]}, "mark": {"type": "point", "filled": true, "size": 452, "color": "#ee2024", "opacity": 1}, "encoding": {"x": {"datum": 29.9}, "y": {"datum": -0.013}}},
     {"data": {"values": [{}]}, "mark": {"type": "text", "text": "Max: 1877", "align": "left", "baseline": "alphabetic", "font": "DejaVu Serif", "fontWeight": "bold", "fontSize": 20, "color": "black"}, "encoding": {"x": {"datum": 62.5}, "y": {"datum": -0.065}}}
    ]
   },
   {
    "spacing": 0,
    "bounds": "flush",
    "vconcat": [
     {"width": 254, "height": 11.6, "data": {"values": [{}]}, "mark": {"type": "text", "text": ""}, "view": {"stroke": null}},
     {
      "width": 254, "height": 148,
      "layer": [
       {"data": {"name": "ts2"}, "mark": {"type": "area", "interpolate": "step-after", "color": "#6a97c9"},
        "encoding": {
         "x": {"field": "t", "type": "quantitative", "scale": {"domain": [0, 400], "nice": false, "zero": false}, "axis": {"values": [0, 200, 400], "title": "Time", "labelFontSize": 19, "titleFontSize": 19.5, "tickSize": 7, "labelPadding": 6, "titlePadding": 1}},
         "y": {"field": "v", "type": "quantitative", "scale": {"domain": [0, 1.107], "nice": false}, "axis": {"values": [0, 1], "format": "d", "title": "Copy number", "labelFontSize": 19, "titleFontSize": 21, "tickSize": 7, "labelPadding": 2, "titlePadding": 7}}}},
       {"data": {"values": [{}]}, "mark": {"type": "point", "filled": true, "size": 420, "color": "#ee2024", "opacity": 0.92}, "encoding": {"x": {"datum": 272}, "y": {"datum": 1.0}}},
       {"data": {"values": [{}]}, "mark": {"type": "rect", "color": "#b3b3b3", "cornerRadius": 4}, "encoding": {"x": {"datum": -19.3}, "x2": {"datum": 253.6}, "y": {"datum": 1.192}, "y2": {"datum": 1.0}}},
       {"data": {"values": [{}]}, "mark": {"type": "rect", "fill": "white", "stroke": "#cccccc", "strokeWidth": 1.5, "cornerRadius": 4}, "encoding": {"x": {"datum": -27.2}, "x2": {"datum": 245.7}, "y": {"datum": 1.229}, "y2": {"datum": 1.037}}},
       {"data": {"values": [{}]}, "mark": {"type": "point", "filled": true, "size": 452, "color": "#ee2024", "opacity": 1}, "encoding": {"x": {"datum": 9.4}, "y": {"datum": 1.137}}},
       {"data": {"values": [{}]}, "mark": {"type": "text", "text": "Max: 1537", "align": "left", "baseline": "alphabetic", "font": "DejaVu Serif", "fontWeight": "bold", "fontSize": 20, "color": "black"}, "encoding": {"x": {"datum": 45.2}, "y": {"datum": 1.082}}}
      ]
     }
    ]
   },
   {
    "spacing": 0,
    "bounds": "flush",
    "vconcat": [
     {"width": 254, "height": 8.6, "data": {"values": [{}]}, "mark": {"type": "text", "text": ""}, "view": {"stroke": null}},
     {
      "width": 254, "height": 148,
      "layer": [
       {"data": {"name": "ts3"}, "mark": {"type": "area", "interpolate": "monotone", "color": "#6a97c9"},
        "encoding": {
         "x": {"field": "t", "type": "quantitative", "scale": {"domain": [0, 400], "nice": false, "zero": false}, "axis": {"values": [0, 200, 400], "title": "Time", "labelFontSize": 19, "titleFontSize": 19.5, "tickSize": 7, "labelPadding": 6, "titlePadding": 1}},
         "y": {"field": "v", "type": "quantitative", "scale": {"domain": [0, 1.107], "nice": false}, "axis": {"values": [0, 1], "format": "d", "title": "Copy number", "labelFontSize": 19, "titleFontSize": 21, "tickSize": 7, "labelPadding": 2, "titlePadding": 3}}}},
       {"data": {"name": "ts3"}, "mark": {"type": "line", "interpolate": "monotone", "color": "#6a97c9", "strokeWidth": 2.5},
        "encoding": {"x": {"field": "t", "type": "quantitative"}, "y": {"field": "v", "type": "quantitative"}}},
       {"data": {"values": [{}]}, "mark": {"type": "point", "filled": true, "size": 420, "color": "#ee2024", "opacity": 0.92}, "encoding": {"x": {"datum": 4.5}, "y": {"datum": 1.0}}},
       {"data": {"values": [{}]}, "mark": {"type": "rect", "color": "#b3b3b3", "cornerRadius": 4}, "encoding": {"x": {"datum": 28.3}, "x2": {"datum": 310.7}, "y": {"datum": 1.162}, "y2": {"datum": 0.982}}},
       {"data": {"values": [{}]}, "mark": {"type": "rect", "fill": "white", "stroke": "#cccccc", "strokeWidth": 1.5, "cornerRadius": 4}, "encoding": {"x": {"datum": 20.5}, "x2": {"datum": 302.8}, "y": {"datum": 1.199}, "y2": {"datum": 1.019}}},
       {"data": {"values": [{}]}, "mark": {"type": "point", "filled": true, "size": 452, "color": "#ee2024", "opacity": 1}, "encoding": {"x": {"datum": 61.4}, "y": {"datum": 1.107}}},
       {"data": {"values": [{}]}, "mark": {"type": "text", "text": "Max: 1840", "align": "left", "baseline": "alphabetic", "font": "DejaVu Serif", "fontWeight": "bold", "fontSize": 20, "color": "black"}, "encoding": {"x": {"datum": 95.6}, "y": {"datum": 1.057}}}
      ]
     }
    ]
   }
  ]
 },
 {
  "bounds": "flush",
  "spacing": 95,
  "resolve": {"scale": {"x": "independent", "y": "independent", "color": "independent", "shape": "independent", "size": "independent"}, "legend": {"color": "independent", "shape": "independent"}},
  "hconcat": [
   {
    "width": 427, "height": 308,
    "view": {"stroke": null},
    "layer": [
     {"data": {"name": "bl"}, "mark": {"type": "point", "filled": true, "opacity": 1},
      "encoding": {
       "x": {"field": "x", "type": "quantitative", "scale": {"domain": [50.058, 66.86], "nice": false, "zero": false}, "axis": {"values": [55, 60, 65], "title": "UMAP 1", "titleX": 219.7, "domain": false, "labelFontSize": 21, "titleFontSize": 21.5, "tickSize": 7, "labelPadding": 5, "titlePadding": 1}},
       "y": {"field": "y", "type": "quantitative", "scale": {"domain": [53.25, 65.4], "nice": false, "zero": false}, "axis": {"values": [54, 56, 58, 60, 62, 64], "title": "UMAP 2", "offset": -12, "domain": false, "labelFontSize": 21, "titleFontSize": 21.5, "tickSize": 7, "labelPadding": 4, "titlePadding": 3}},
       "size": {"field": "g", "type": "nominal", "scale": {"domain": ["o", "v"], "range": [125, 105]}, "legend": null},
       "color": {"field": "g", "type": "nominal", "scale": {"domain": ["o", "v"], "range": ["#40184e", "#b5266a"]}, "legend": {"title": null, "orient": "bottom-right", "offset": 10, "labelExpr": "datum.label == 'o' ? 'other' : 'validation points'"}},
       "shape": {"field": "g", "type": "nominal", "scale": {"domain": ["o", "v"], "range": ["circle", "M-1,-0.2H-0.2V-1H0.2V-0.2H1V0.2H0.2V1H-0.2V0.2H-1Z"]}, "legend": {"title": null, "orient": "bottom-right", "offset": 10, "labelExpr": "datum.label == 'o' ? 'other' : 'validation points'"}}}},
     {"data": {"values": [{}]}, "mark": {"type": "rect", "fillOpacity": 0, "stroke": "black", "strokeWidth": 2}, "encoding": {"x": {"datum": 50.53}, "x2": {"datum": 66.86}, "y": {"datum": 53.25}, "y2": {"datum": 65.4}}},
     {"data": {"values": [{}]}, "mark": {"type": "rule", "color": "black", "strokeWidth": 2}, "encoding": {"x": {"datum": 51.61}, "y": {"datum": 61.36}, "x2": {"datum": 53.07}, "y2": {"datum": 66.73}}},
     {"data": {"values": [{}]}, "mark": {"type": "rule", "color": "black", "strokeWidth": 2}, "encoding": {"x": {"datum": 61.41}, "y": {"datum": 64.37}, "x2": {"datum": 62.54}, "y2": {"datum": 66.77}}},
     {"data": {"values": [{}]}, "mark": {"type": "rule", "color": "black", "strokeWidth": 2}, "encoding": {"x": {"datum": 62.56}, "y": {"datum": 63.85}, "x2": {"datum": 75.54}, "y2": {"datum": 66.96}}}
    ]
   },
   {
    "width": 413, "height": 308,
    "layer": [
     {"data": {"name": "br"}, "mark": {"type": "point", "filled": true, "opacity": 1},
      "encoding": {
       "x": {"field": "x", "type": "quantitative", "scale": {"domain": [49.28, 76.4], "nice": false, "zero": false}, "axis": {"values": [50, 55, 60, 65, 70, 75], "title": "UMAP 1", "labelFontSize": 21, "titleFontSize": 21.5, "tickSize": 7, "labelPadding": 5, "titlePadding": 1}},
       "y": {"field": "y", "type": "quantitative", "scale": {"domain": [52.21, 64.35], "nice": false, "zero": false}, "axis": {"values": [54, 56, 58, 60, 62, 64], "title": "UMAP 2", "labelFontSize": 21, "titleFontSize": 21.5, "tickSize": 7, "labelPadding": 4, "titlePadding": 3}},
       "size": {"field": "g", "type": "nominal", "scale": {"domain": ["o", "v"], "range": [125, 105]}, "legend": null},
       "color": {"field": "g", "type": "nominal", "scale": {"domain": ["o", "v"], "range": ["#40184e", "#b5266a"]}, "legend": {"title": null, "orient": "bottom-right", "offset": 10, "labelExpr": "datum.label == 'o' ? 'other' : 'validation points'"}},
       "shape": {"field": "g", "type": "nominal", "scale": {"domain": ["o", "v"], "range": ["circle", "M-1,-0.2H-0.2V-1H0.2V-0.2H1V0.2H0.2V1H-0.2V0.2H-1Z"]}, "legend": {"title": null, "orient": "bottom-right", "offset": 10, "labelExpr": "datum.label == 'o' ? 'other' : 'validation points'"}}}},
     {"data": {"values": [{}]}, "mark": {"type": "text", "text": ["New features:", "1. absolute sum of changes", "2. Autocorrelation aggregates"], "align": "left", "baseline": "alphabetic", "font": "Liberation Serif", "fontSize": 21, "lineHeight": 24.5, "color": "black"}, "encoding": {"x": {"datum": 60.12}, "y": {"datum": 60.05}}},
     {"data": {"values": [{}]}, "mark": {"type": "text", "text": ["- mean", "- varriance"], "align": "left", "baseline": "alphabetic", "font": "Liberation Serif", "fontSize": 21, "lineHeight": 31.7, "color": "black"}, "encoding": {"x": {"datum": 62.61}, "y": {"datum": 57.1}}}
    ]
   }
  ]
 }
]
}
